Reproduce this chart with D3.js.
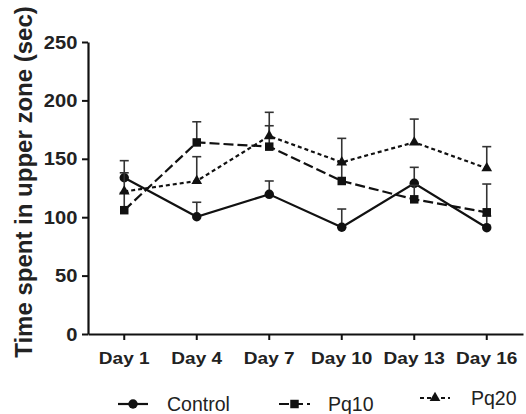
<!DOCTYPE html>
<html>
<head>
<meta charset="utf-8">
<script src="https://cdn.jsdelivr.net/npm/d3@7"></script>
<style>
  html, body { margin: 0; padding: 0; background: #fff; }
  svg { display: block; font-family: "Liberation Sans", Arial, sans-serif; }
</style>
</head>
<body>
<svg id="chart" width="526" height="414"></svg>
<script>
// Days of observation
const days = ["Day 1", "Day 4", "Day 7", "Day 10", "Day 13", "Day 16"];

// Mean time spent in upper zone (sec) and upper SEM for each group
const controlMean = [133.8, 100.4, 119.6, 91.4, 129.0, 91.0];
const controlErr  = [14.6, 12.4, 11.4, 15.6, 13.7, 10.0];
const pq10Mean    = [106.0, 164.0, 160.4, 131.0, 115.3, 104.2];
const pq10Err     = [15.0, 17.7, 17.9, 16.0, 12.0, 24.2];
const pq20Mean    = [122.0, 131.0, 169.5, 147.0, 164.1, 141.9];
const pq20Err     = [16.0, 20.8, 20.3, 20.5, 19.9, 18.5];

const yTicks = [0, 50, 100, 150, 200, 250];
const groupNames = ["Control", "Pq10", "Pq20"];

const groups = [
  { name: groupNames[0], mean: controlMean, err: controlErr, dash: null,   marker: "circle" },
  { name: groupNames[1], mean: pq10Mean,    err: pq10Err,    dash: "10,4", marker: "square" },
  { name: groupNames[2], mean: pq20Mean,    err: pq20Err,    dash: "4,3",  marker: "triangle" }
];

const svg = d3.select("#chart");
const plotLeft = 88, plotRight = 523, plotTop = 42, plotBottom = 334;

const x = d3.scaleBand().domain(days).range([plotLeft, plotRight]).padding(0);
const cx = d => x(d) + x.bandwidth() / 2;
const y = d3.scaleLinear().domain([0, 250]).range([plotBottom, plotTop]);

const symbolFor = {
  circle: d3.symbol().type(d3.symbolCircle).size(70),
  square: d3.symbol().type(d3.symbolSquare).size(72),
  triangle: d3.symbol().type(d3.symbolTriangle).size(50)
};

// Y axis
const yAxis = svg.append("g")
  .attr("transform", `translate(${plotLeft},0)`)
  .call(d3.axisLeft(y).tickValues(yTicks).tickSize(6).tickPadding(4).tickSizeOuter(0));
yAxis.select(".domain").attr("stroke", "#111").attr("stroke-width", 2.2);
yAxis.selectAll(".tick line").attr("stroke", "#111").attr("stroke-width", 2);
yAxis.selectAll(".tick text")
  .attr("fill", "#222").attr("font-size", 19).attr("font-weight", "bold")
  .attr("transform", "scale(1.06,1)");

// X axis
const xAxis = svg.append("g")
  .attr("transform", `translate(0,${plotBottom})`)
  .call(d3.axisBottom(x).tickSize(6).tickPadding(12).tickSizeOuter(0));
xAxis.select(".domain").attr("stroke", "#111").attr("stroke-width", 2.2);
xAxis.selectAll(".tick line").attr("stroke", "#111").attr("stroke-width", 2);
xAxis.selectAll(".tick text")
  .attr("fill", "#222").attr("font-size", 17).attr("font-weight", "bold")
  .attr("transform", "scale(1.12,1)");

// Y axis title
svg.append("text")
  .attr("transform", `translate(23,182) rotate(-90)`)
  .attr("text-anchor", "middle")
  .attr("dominant-baseline", "central")
  .attr("font-size", 24).attr("font-weight", "bold").attr("fill", "#222")
  .text("Time spent in upper zone (sec)");

const line = d3.line().x(d => cx(d.day)).y(d => y(d.v));

groups.forEach(g => {
  const pts = days.map((day, i) => ({ day, v: g.mean[i], e: g.err[i] }));
  const layer = svg.append("g");

  // upper error bars with caps
  const eb = layer.selectAll(".eb").data(pts).enter().append("g");
  eb.append("line")
    .attr("x1", d => cx(d.day)).attr("x2", d => cx(d.day))
    .attr("y1", d => y(d.v)).attr("y2", d => y(d.v + d.e))
    .attr("stroke", "#333").attr("stroke-width", 1.6);
  eb.append("line")
    .attr("x1", d => cx(d.day) - 4.5).attr("x2", d => cx(d.day) + 4.5)
    .attr("y1", d => y(d.v + d.e)).attr("y2", d => y(d.v + d.e))
    .attr("stroke", "#333").attr("stroke-width", 1.6);

  layer.append("path").datum(pts)
    .attr("d", line)
    .attr("fill", "none").attr("stroke", "#111").attr("stroke-width", 2.2)
    .attr("stroke-dasharray", g.dash);

  layer.selectAll(".m").data(pts).enter().append("path")
    .attr("transform", d => `translate(${cx(d.day)},${y(d.v)})`)
    .attr("d", symbolFor[g.marker]())
    .attr("fill", "#111");
});

// Legend
const legendItems = [
  { g: groups[0], x0: 118, x1: 148, tx: 167, ty: 411 },
  { g: groups[1], x0: 279, x1: 310, tx: 328, ty: 411 },
  { g: groups[2], x0: 420, x1: 450, tx: 471, ty: 405 }
];
legendItems.forEach(it => {
  const my = it.ty - 7;
  const lg = svg.append("g");
  lg.append("line")
    .attr("x1", it.x0).attr("x2", it.x1).attr("y1", my).attr("y2", my)
    .attr("stroke", "#111").attr("stroke-width", 2.2)
    .attr("stroke-dasharray", it.g.dash);
  lg.append("path")
    .attr("transform", `translate(${(it.x0 + it.x1) / 2},${my})`)
    .attr("d", symbolFor[it.g.marker]())
    .attr("fill", "#111");
  lg.append("text")
    .attr("x", it.tx).attr("y", it.ty)
    .attr("font-size", 19.5).attr("fill", "#222")
    .text(it.g.name);
});
</script>
</body>
</html>
